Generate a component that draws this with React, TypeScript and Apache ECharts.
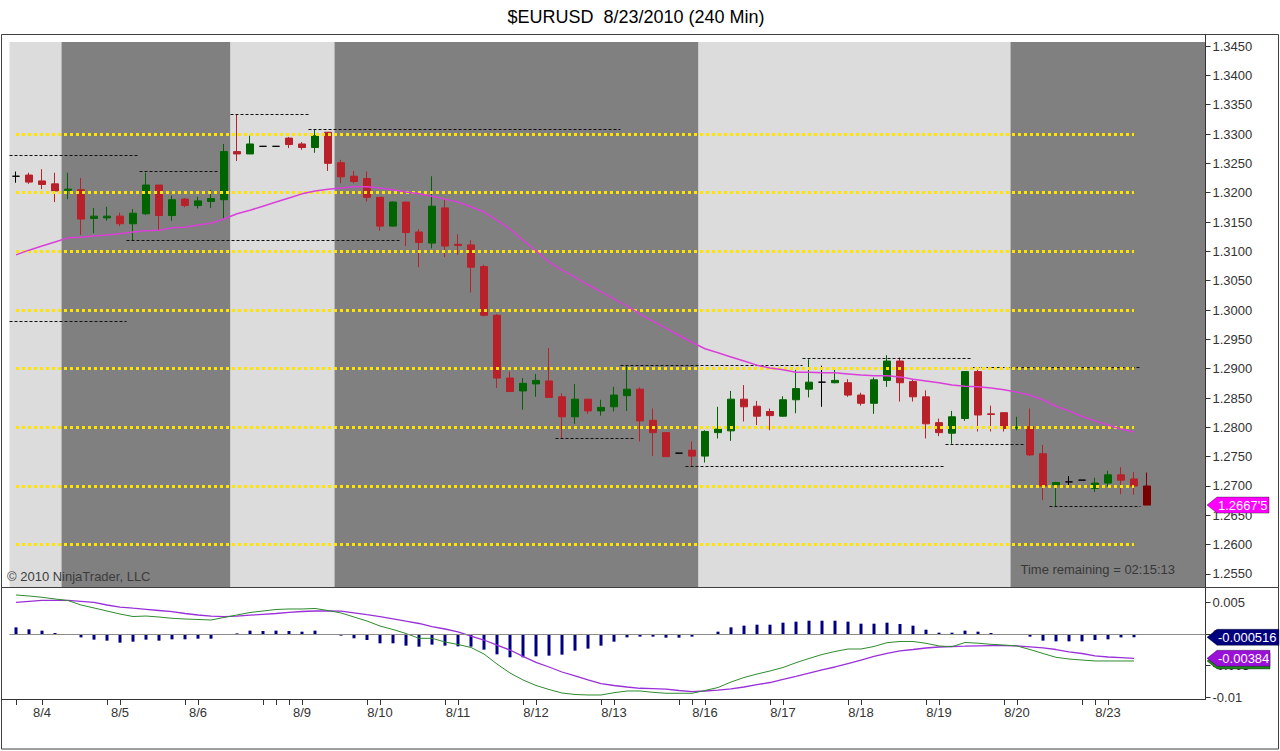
import React, { useEffect, useRef } from 'react';
import * as echarts from 'echarts';

const FONT = '"Liberation Sans", Arial, Helvetica, sans-serif';

const slotCount = 92;

const barOpen = [
  1.3228, 1.3230, 1.3220, 1.3215, 1.3204, 1.3205, 1.3156, 1.3157, 1.3160, 1.3147,
  1.3164, 1.3213, 1.3161, 1.3189, 1.3178, 1.3185, 1.3188, 1.3270, 1.3266, 1.3279,
  1.3279, 1.3293, 1.3283, 1.3277, 1.3303, 1.3251, 1.3228, 1.3224, 1.3192, 1.3143,
  1.3184, 1.3133, 1.3114, 1.3174, 1.3112, 1.3111, 1.3074, 1.2991, 1.2884, 1.2862,
  1.2874, 1.2879, 1.2852, 1.2818, 1.2848, 1.2828, 1.2835, 1.2854, 1.2865, 1.2812,
  1.2791, 1.2756, 1.2761, 1.2751, 1.2791, 1.2794, 1.2848, 1.2836, 1.2827, 1.2819,
  1.2847, 1.2865, 1.2877, 1.2876, 1.2876, 1.2855, 1.2841, 1.2880, 1.2913, 1.2878,
  1.2852, 1.2808, 1.2790, 1.2815, 1.2895, 1.2823, 1.2825, 1.2799, 1.2801, 1.2755,
  1.2702, 1.2707, 1.2710, 1.2696, 1.2705, 1.2719, 1.2712, 1.2700
];
const barHigh = [
  1.3236, 1.3234, 1.3240, 1.3234, 1.3234, 1.3225, 1.3174, 1.3176, 1.3166, 1.3172,
  1.3234, 1.3213, 1.3195, 1.3191, 1.3193, 1.3205, 1.3283, 1.3334, 1.3297, 1.3279,
  1.3279, 1.3295, 1.3286, 1.3308, 1.3303, 1.3256, 1.3237, 1.3236, 1.3192, 1.3185,
  1.3184, 1.3138, 1.3228, 1.3188, 1.3129, 1.3119, 1.3077, 1.2993, 1.2895, 1.2884,
  1.2891, 1.2935, 1.2858, 1.2874, 1.2848, 1.2847, 1.2869, 1.2906, 1.2868, 1.2832,
  1.2791, 1.2756, 1.2776, 1.2795, 1.2835, 1.2862, 1.2872, 1.2845, 1.2832, 1.2853,
  1.2898, 1.2916, 1.2905, 1.2899, 1.2882, 1.2859, 1.2885, 1.2923, 1.2919, 1.2881,
  1.2863, 1.2815, 1.2828, 1.2895, 1.2899, 1.2837, 1.2825, 1.2818, 1.2832, 1.2770,
  1.2707, 1.2717, 1.2710, 1.2714, 1.2726, 1.2732, 1.2724, 1.2723
];
const barLow = [
  1.3217, 1.3215, 1.3206, 1.3184, 1.3189, 1.3128, 1.3131, 1.3152, 1.3143, 1.3119,
  1.3162, 1.3135, 1.3152, 1.3175, 1.3173, 1.3174, 1.3156, 1.3254, 1.3266, 1.3279,
  1.3279, 1.3276, 1.3273, 1.3268, 1.3237, 1.3216, 1.3216, 1.3185, 1.3135, 1.3142,
  1.3109, 1.3073, 1.3105, 1.3090, 1.3094, 1.3030, 1.2989, 1.2867, 1.2861, 1.2830,
  1.2852, 1.2850, 1.2781, 1.2806, 1.2823, 1.2820, 1.2827, 1.2828, 1.2776, 1.2751,
  1.2750, 1.2756, 1.2734, 1.2740, 1.2781, 1.2777, 1.2810, 1.2804, 1.2795, 1.2818,
  1.2824, 1.2851, 1.2835, 1.2875, 1.2852, 1.2837, 1.2823, 1.2869, 1.2844, 1.2844,
  1.2781, 1.2785, 1.2772, 1.2811, 1.2793, 1.2793, 1.2793, 1.2795, 1.2751, 1.2676,
  1.2664, 1.2700, 1.2710, 1.2690, 1.2699, 1.2686, 1.2685, 1.26675
];
const barClose = [
  1.3228, 1.3218, 1.3214, 1.3203, 1.3206, 1.3155, 1.3160, 1.3160, 1.3147, 1.3165,
  1.3213, 1.3161, 1.3188, 1.3178, 1.3186, 1.3190, 1.3270, 1.3266, 1.3283, 1.3279,
  1.3279, 1.3282, 1.3277, 1.3297, 1.3250, 1.3227, 1.3219, 1.3192, 1.3143, 1.3184,
  1.3132, 1.3115, 1.3177, 1.3109, 1.3110, 1.3073, 1.2991, 1.2884, 1.2861, 1.2875,
  1.2880, 1.2851, 1.2818, 1.2848, 1.2828, 1.2834, 1.2855, 1.2865, 1.2811, 1.2791,
  1.2750, 1.2756, 1.2751, 1.2793, 1.2797, 1.2848, 1.2835, 1.2819, 1.2820, 1.2847,
  1.2866, 1.2877, 1.2877, 1.2880, 1.2855, 1.2841, 1.2881, 1.2913, 1.2876, 1.2852,
  1.2806, 1.2791, 1.2818, 1.2895, 1.2821, 1.2822, 1.2798, 1.2800, 1.2753, 1.2700,
  1.2706, 1.2707, 1.2710, 1.2705, 1.2719, 1.2710, 1.2700, 1.26675
];

const maValues = [
  1.3094, 1.3102, 1.3109, 1.3116, 1.3123, 1.3124, 1.3126, 1.3128, 1.3130, 1.3133,
  1.3135, 1.3136, 1.3140, 1.3141, 1.3145, 1.3148, 1.3155, 1.3164, 1.3170, 1.3177,
  1.3184, 1.3191, 1.3198, 1.3203, 1.3206, 1.3208, 1.3210, 1.3210, 1.3208, 1.3205,
  1.3201, 1.3198, 1.3194, 1.3189, 1.3184, 1.3176, 1.3167, 1.3153, 1.3138, 1.3119,
  1.3101, 1.3082, 1.3068, 1.3056, 1.3043, 1.3031, 1.3019, 1.3007, 1.2993, 1.2981,
  1.2969, 1.2957, 1.2945, 1.2934, 1.2927, 1.2920, 1.2913, 1.2906, 1.2901, 1.2898,
  1.2894, 1.2894, 1.2893, 1.2893, 1.2891, 1.2889, 1.2888, 1.2888, 1.2886, 1.2882,
  1.2879, 1.2876, 1.2872, 1.2870, 1.2869, 1.2867, 1.2864, 1.2860, 1.2855, 1.2847,
  1.2836, 1.2828, 1.2819, 1.2811, 1.2804, 1.2797, 1.2792
];

const macdLine = [
  0.00616, 0.0060, 0.0058, 0.00553, 0.00529, 0.00458, 0.00411, 0.00363, 0.00316, 0.00276,
  0.00284, 0.00268, 0.00248, 0.00237, 0.00229, 0.00221, 0.00261, 0.0030, 0.0034, 0.00363,
  0.00387, 0.00395, 0.00395, 0.00403, 0.00371, 0.00332, 0.00268, 0.00205, 0.00126, 0.00071,
  0.00008, -0.00068, -0.00068, -0.00126, -0.00166, -0.00213, -0.00316, -0.00474, -0.00616, -0.00726,
  -0.00813, -0.00876, -0.00932, -0.00955, -0.00963, -0.00963, -0.00927, -0.0090, -0.0090, -0.00921,
  -0.00936, -0.00936, -0.00936, -0.00892, -0.00845, -0.00758, -0.00687, -0.00632, -0.00584, -0.00529,
  -0.00453, -0.00387, -0.00324, -0.00276, -0.00237, -0.00237, -0.00197, -0.00137, -0.00118, -0.00118,
  -0.00147, -0.00189, -0.00201, -0.00134, -0.00145, -0.00163, -0.00174, -0.00189, -0.00245, -0.00308,
  -0.00368, -0.00395, -0.00411, -0.00426, -0.00426, -0.00426, -0.00426
];
const macdAvg = [
  0.0050, 0.00516, 0.00532, 0.00532, 0.00532, 0.00516, 0.0050, 0.00458, 0.00426, 0.00407,
  0.0039, 0.00371, 0.00352, 0.00324, 0.0030, 0.00281, 0.00275, 0.00281, 0.00297, 0.00311,
  0.00324, 0.0034, 0.00355, 0.00363, 0.00363, 0.0036, 0.00335, 0.00305, 0.00276, 0.0024,
  0.00202, 0.00166, 0.00118, 0.00079, 0.00032, -0.00032, -0.00095, -0.00174, -0.00253, -0.00352,
  -0.00447, -0.00521, -0.0060, -0.00663, -0.00726, -0.00782, -0.00813, -0.00837, -0.00857, -0.00864,
  -0.00872, -0.00892, -0.00909, -0.0090, -0.00887, -0.00865, -0.00837, -0.0080, -0.00766, -0.00718,
  -0.00668, -0.00616, -0.00568, -0.00521, -0.00466, -0.00411, -0.00355, -0.00305, -0.00268, -0.00245,
  -0.00221, -0.00205, -0.00197, -0.00193, -0.00188, -0.00185, -0.00185, -0.00188, -0.00202, -0.00218,
  -0.00245, -0.00281, -0.00308, -0.00347, -0.00363, -0.00373, -0.00384
];
const macdDiff = [
  0.00105, 0.00074, 0.00053, 0.00016, -0.00005, -0.00053, -0.00089, -0.00105, -0.00137, -0.00121,
  -0.00089, -0.00105, -0.00084, -0.00084, -0.00074, -0.00074, -0.0001, 0.0001, 0.00053, 0.00047,
  0.00053, 0.00047, 0.00037, 0.00053, 0, -0.00026, -0.00068, -0.00095, -0.00147, -0.00147,
  -0.00184, -0.002, -0.00168, -0.00184, -0.00195, -0.002, -0.00247, -0.00321, -0.00368, -0.00368,
  -0.00353, -0.00342, -0.00326, -0.00263, -0.00231, -0.00184, -0.00121, -0.00053, -0.00042, -0.00042,
  -0.00058, -0.00058, -0.00042, 0, 0.00037, 0.00105, 0.00132, 0.00147, 0.00147, 0.00179,
  0.00195, 0.0021, 0.0021, 0.0021, 0.00195, 0.00163, 0.00163, 0.00179, 0.00158, 0.00132,
  0.00068, 0.00021, 0.00021, 0.00053, 0.00037, 0.00016, 0, -0.0001, -0.00042, -0.00105,
  -0.00116, -0.00116, -0.00116, -0.00095, -0.00084, -0.00053, -0.000516
];

const priceTicks = [1.255, 1.26, 1.265, 1.27, 1.275, 1.28, 1.285, 1.29, 1.295, 1.3, 1.305, 1.31, 1.315, 1.32, 1.325, 1.33, 1.335, 1.34, 1.345];
const macdTicks = [0.005, 0, -0.005, -0.01];
const macdTickLabels = ['0.005', '0', '-0.005', '-0.01'];

const dayLabelIdx = [2, 8, 14, 22, 28, 34, 40, 46, 53, 59, 65, 71, 77, 84];
const dayLabels = ['8/4', '8/5', '8/6', '8/9', '8/10', '8/11', '8/12', '8/13', '8/16', '8/17', '8/18', '8/19', '8/20', '8/23'];
const extraTickIdx = [0, 7, 13, 19, 20, 21, 27, 33, 39, 45, 51, 52, 58, 64, 70, 76, 82, 83];

const bandStart = [-0.5, 3.5, 16.5, 24.5, 52.5, 76.5];
const bandEnd = [3.5, 16.5, 24.5, 52.5, 76.5, 91.5];
const bandTone = ['light', 'dark', 'light', 'dark', 'light', 'dark'];

const levelPrices = [1.33, 1.32, 1.31, 1.30, 1.29, 1.28, 1.27, 1.26];
const levelFrom = 0;
const levelTo = 86;

const sessPrice = [1.3263, 1.3236, 1.3119, 1.3334, 1.3308, 1.2981, 1.2906, 1.2917, 1.2781, 1.2734, 1.2772, 1.2903, 1.2665];
const sessFrom = [-0.5, 9.5, 8.5, 16.5, 22.5, -0.5, 46.5, 60.5, 41.5, 51.5, 71.5, 73.5, 79.5];
const sessTo = [9.5, 15.5, 29.5, 22.5, 46.5, 8.5, 60.5, 73.5, 47.5, 71.5, 77.5, 86.5, 86.5];

const titleText = '$EURUSD  8/23/2010 (240 Min)';
const copyrightText = '\u00A9 2010 NinjaTrader, LLC';
const timeText = 'Time remaining = 02:15:13';
const lastPriceText = "1.2667'5";
const lastDiffText = '-0.000516';
const lastAvgText = '-0.00384';

const COL = {
  light: '#DCDCDC',
  dark: '#808080',
  up: '#006400',
  down: '#B8202A',
  last: '#7A0000',
  yellow: '#FFE400',
  ma: '#DA3FDA',
  macd: '#2E8B2E',
  avg: '#9A30D8',
  hist: '#000080',
  axis: '#333333',
};

function badge(tipX: number, yc: number, right: number, fill: string, text: string | null, z: number) {
  const h = 8;
  const els: any[] = [
    {
      type: 'polygon',
      z,
      shape: { points: [[tipX, yc], [tipX + 10, yc - h], [right, yc - h], [right, yc + h], [tipX + 10, yc + h]] },
      style: { fill, stroke: 'rgba(0,0,0,0.35)', lineWidth: 1 },
    },
  ];
  if (text) {
    els.push({
      type: 'text',
      z: z + 1,
      style: { text, x: tipX + 11, y: yc + 0.5, fill: '#ffffff', font: `13px ${FONT}`, align: 'left', verticalAlign: 'middle' },
    });
  }
  return els;
}

export default function App() {
  const ref = useRef<HTMLDivElement>(null);

  useEffect(() => {
    const el = ref.current;
    if (!el) return;
    const chart = echarts.init(el, null, { renderer: 'svg', width: 1280, height: 751 });

    const cats = Array.from({ length: slotCount }, (_, i) => 'b' + i);
    const labelMap = new Map<number, string>(dayLabelIdx.map((k, j) => [k, dayLabels[j]]));
    const tickSet = new Set<number>([...dayLabelIdx, ...extraTickIdx]);
    const lastIdx = barOpen.length - 1;

    const candleData = barOpen.map((o, i) => {
      const v = [o, barClose[i], barLow[i], barHigh[i]];
      if (i === lastIdx) {
        return { value: v, itemStyle: { color: COL.last, color0: COL.last, borderColor: COL.last, borderColor0: COL.last } };
      }
      return v;
    });

    const bands = bandStart.map((s, i) => [
      { xAxis: s, itemStyle: { color: bandTone[i] === 'light' ? COL.light : COL.dark } },
      { xAxis: bandEnd[i] },
    ]);
    const yellowLines = levelPrices.map((p) => [{ coord: [levelFrom, p] }, { coord: [levelTo, p] }]);
    const sessLines = sessPrice.map((p, i) => [{ coord: [sessFrom[i], p] }, { coord: [sessTo[i], p] }]);

    const labelStyle = { color: COL.axis, fontSize: 13, fontFamily: FONT };

    const option: any = {
      animation: false,
      backgroundColor: '#ffffff',
      grid: [
        { left: 9.5, top: 42, width: 1196, height: 545 },
        { left: 9.5, top: 588, width: 1196, height: 111 },
      ],
      xAxis: [
        {
          type: 'category', gridIndex: 0, data: cats, boundaryGap: true,
          axisLine: { show: false, onZero: false }, axisTick: { show: false }, axisLabel: { show: false }, splitLine: { show: false },
        },
        { type: 'value', gridIndex: 0, min: -0.5, max: 91.5, show: false, axisLine: { onZero: false } },
        {
          type: 'category', gridIndex: 1, data: cats, boundaryGap: true, position: 'bottom',
          axisLine: { show: true, onZero: false, lineStyle: { color: COL.axis, width: 1 } },
          axisTick: {
            show: true, alignWithLabel: true, length: 6, inside: false, lineStyle: { color: COL.axis },
            interval: (i: number) => tickSet.has(i),
          },
          axisLabel: {
            ...labelStyle, margin: 7,
            interval: (i: number) => labelMap.has(i),
            formatter: (_v: string, i: number) => labelMap.get(i) || '',
          },
          splitLine: { show: false },
        },
      ],
      yAxis: [
        {
          type: 'value', gridIndex: 0, position: 'right', min: 1.252784, max: 1.345682,
          splitLine: { show: false },
          axisLine: { show: true, onZero: false, lineStyle: { color: COL.axis } },
          axisTick: { show: true, length: 5, lineStyle: { color: COL.axis }, customValues: priceTicks },
          axisLabel: { ...labelStyle, margin: 7, customValues: priceTicks, formatter: (v: number) => v.toFixed(4) },
        },
        {
          type: 'value', gridIndex: 1, position: 'right', min: -0.010264, max: 0.007264,
          splitLine: { show: false },
          axisLine: { show: true, onZero: false, lineStyle: { color: COL.axis } },
          axisTick: { show: true, length: 5, lineStyle: { color: COL.axis }, customValues: macdTicks },
          axisLabel: {
            ...labelStyle, margin: 7, customValues: macdTicks,
            formatter: (v: number) => {
              let best = 0;
              macdTicks.forEach((t, j) => { if (Math.abs(t - v) < Math.abs(macdTicks[best] - v)) best = j; });
              return macdTickLabels[best];
            },
          },
        },
      ],
      series: [
        {
          type: 'line', name: 'bands', xAxisIndex: 1, yAxisIndex: 0, data: [], silent: true, z: 0,
          markArea: { silent: true, z: 0, data: bands },
        },
        {
          type: 'candlestick', name: '$EURUSD', xAxisIndex: 0, yAxisIndex: 0, data: candleData, barWidth: 7, z: 3,
          itemStyle: {
            color: COL.up, color0: COL.down, borderColor: COL.up, borderColor0: COL.down,
            borderColorDoji: '#000000', borderWidth: 1,
          },
        },
        {
          type: 'line', name: 'sessions', xAxisIndex: 1, yAxisIndex: 0, data: [], silent: true, z: 4,
          markLine: {
            silent: true, symbol: ['none', 'none'], label: { show: false }, z: 4,
            lineStyle: { color: '#111111', width: 1, type: [3, 2] },
            data: sessLines,
          },
        },
        {
          type: 'line', name: 'levels', xAxisIndex: 1, yAxisIndex: 0, data: [], silent: true, z: 5,
          markLine: {
            silent: true, symbol: ['none', 'none'], label: { show: false }, z: 5,
            lineStyle: { color: COL.yellow, width: 3, type: [3, 3], cap: 'butt' },
            data: yellowLines,
          },
        },
        {
          type: 'line', name: 'SMA', xAxisIndex: 0, yAxisIndex: 0, data: maValues, showSymbol: false, symbol: 'none',
          lineStyle: { color: COL.ma, width: 1.5 }, z: 6, silent: true,
        },
        {
          type: 'bar', name: 'Diff', xAxisIndex: 2, yAxisIndex: 1, data: macdDiff, barWidth: 3,
          itemStyle: { color: COL.hist }, z: 2, silent: true,
          markLine: {
            silent: true, symbol: ['none', 'none'], label: { show: false },
            lineStyle: { color: '#8c8c8c', width: 1, type: 'solid' },
            data: [{ yAxis: 0 }],
          },
        },
        {
          type: 'line', name: 'Avg', xAxisIndex: 2, yAxisIndex: 1, data: macdAvg, showSymbol: false, symbol: 'none',
          lineStyle: { color: COL.avg, width: 1.3 }, z: 3, silent: true,
        },
        {
          type: 'line', name: 'MACD', xAxisIndex: 2, yAxisIndex: 1, data: macdLine, showSymbol: false, symbol: 'none',
          lineStyle: { color: COL.macd, width: 1 }, z: 4, silent: true,
        },
      ],
    };

    chart.setOption(option);

    const yPrice = chart.convertToPixel({ yAxisIndex: 0 }, barClose[lastIdx]) as number;
    const yDiff = chart.convertToPixel({ yAxisIndex: 1 }, macdDiff[macdDiff.length - 1]) as number;
    const yAvg = chart.convertToPixel({ yAxisIndex: 1 }, macdAvg[macdAvg.length - 1]) as number;
    const yMacd = chart.convertToPixel({ yAxisIndex: 1 }, macdLine[macdLine.length - 1]) as number;
    const axisX = 1205.5;

    const graphics: any[] = [
      {
        type: 'text', z: 50,
        style: { text: titleText, x: 636, y: 16.5, fill: '#000000', font: `18px ${FONT}`, align: 'center', verticalAlign: 'middle' },
      },
      {
        type: 'rect', z: 50,
        shape: { x: 1.5, y: 34.5, width: 1277, height: 714.5 },
        style: { fill: 'none', stroke: '#404040', lineWidth: 1 },
      },
      { type: 'line', z: 50, shape: { x1: 1, y1: 587.5, x2: 1279, y2: 587.5 }, style: { stroke: '#404040', lineWidth: 1 } },
      { type: 'line', z: 50, shape: { x1: axisX, y1: 34, x2: axisX, y2: 42 }, style: { stroke: COL.axis, lineWidth: 1 } },
      { type: 'line', z: 50, shape: { x1: 1, y1: 699.5, x2: 10, y2: 699.5 }, style: { stroke: COL.axis, lineWidth: 1 } },
      {
        type: 'text', z: 50,
        style: { text: copyrightText, x: 7, y: 576.5, fill: '#3c3c3c', font: `13px ${FONT}`, align: 'left', verticalAlign: 'middle' },
      },
      {
        type: 'text', z: 50,
        style: { text: timeText, x: 1175, y: 569.5, fill: '#383838', font: `13px ${FONT}`, align: 'right', verticalAlign: 'middle' },
      },
      ...badge(1207, yPrice, 1269, '#FF00FF', lastPriceText, 60),
      ...badge(1207, yDiff, 1279, '#00007F', lastDiffText, 60),
      ...badge(1207, yMacd, 1270, '#1E8A1E', null, 60),
      ...badge(1207, yAvg, 1270, '#9A10D8', lastAvgText, 62),
    ];

    chart.setOption({ graphic: graphics });

    return () => {
      chart.dispose();
    };
  }, []);

  return (
    <div
      ref={ref}
      style={{ position: 'fixed', left: 0, top: 0, width: 1280, height: 751, background: '#ffffff' }}
    />
  );
}
